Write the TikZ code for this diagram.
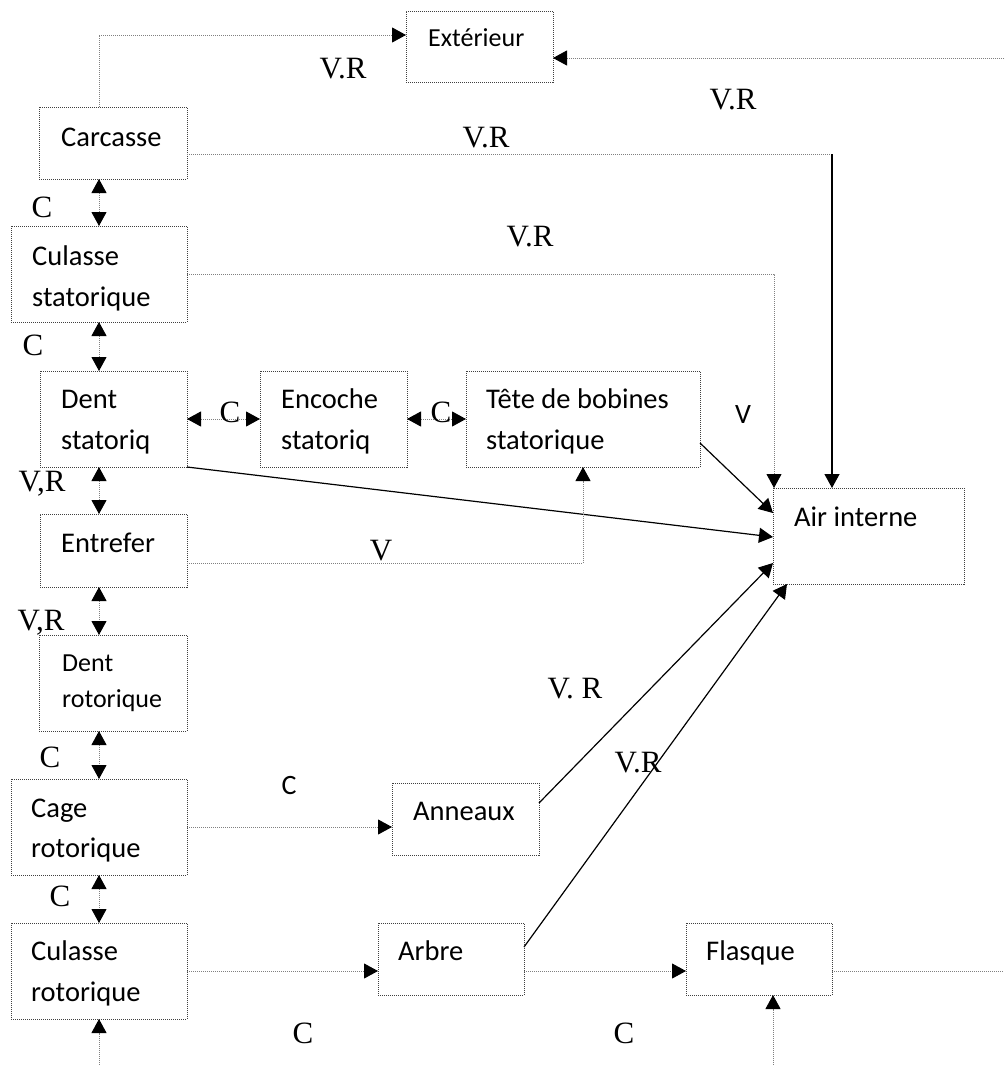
\documentclass[tikz,border=0pt]{standalone}
\usepackage{fontspec}
\setmainfont{Liberation Serif}
\newfontfamily\boxfont{Carlito}
\usetikzlibrary{arrows.meta}

\tikzset{
  box/.style={draw=black!75, line width=0.9pt, dash pattern=on 1pt off 1pt,
    inner sep=0pt, outer sep=0pt, anchor=north west},
  txt/.style={anchor=base west, inner sep=0pt, font=\boxfont\fontsize{28.5}{34}\selectfont},
  txts/.style={txt, font=\boxfont\fontsize{26}{31}\selectfont},
  lab/.style={inner sep=0pt, text height=20.5pt, text depth=0pt, font=\fontsize{31}{37}\selectfont},
  labs/.style={inner sep=0pt, text height=18pt, text depth=0pt, font=\boxfont\fontsize{28}{34}\selectfont},
  flow/.style={draw=black!50, line width=0.9pt, dash pattern=on 1pt off 1pt},
  solidflow/.style={draw=black, line width=1.2pt},
  arr/.style={-{Triangle[length=14pt,width=15pt,color=black]}},
  dbl/.style={{Triangle[length=14pt,width=15pt,color=black]}-{Triangle[length=14pt,width=15pt,color=black]}},
}

\begin{document}
\begin{tikzpicture}[x=1pt,y=-1pt]
\useasboundingbox (0,0) rectangle (1004,1065);

% blocks
\node[box, minimum width=147, minimum height=71] (ext)   at (406,11)  {};
\node[box, minimum width=148, minimum height=72] (carc)  at (39,107)  {};
\node[box, minimum width=176, minimum height=96] (culs)  at (11,226)  {};
\node[box, minimum width=147, minimum height=96] (dents) at (40,371)  {};
\node[box, minimum width=147, minimum height=96] (enc)   at (260,371) {};
\node[box, minimum width=234, minimum height=96] (tete)  at (466,371) {};
\node[box, minimum width=191, minimum height=96] (air)   at (773,488) {};
\node[box, minimum width=147, minimum height=73] (entr)  at (40,514)  {};
\node[box, minimum width=148, minimum height=96] (dentr) at (39,635)  {};
\node[box, minimum width=176, minimum height=96] (cage)  at (11,779)  {};
\node[box, minimum width=147, minimum height=72] (ann)   at (392,783) {};
\node[box, minimum width=176, minimum height=96] (culr)  at (11,923)  {};
\node[box, minimum width=146, minimum height=72] (arbre) at (378,923) {};
\node[box, minimum width=146, minimum height=72] (flas)  at (686,923) {};

% block texts
\node[txts] (ext-t)   at (428,47)  {Extérieur};
\node[txt]  (carc-t)  at (61,146)  {Carcasse};
\node[txt]  (culs-t1) at (32,265)  {Culasse};
\node[txt]  (culs-t2) at (32,306)  {statorique};
\node[txt]  (dents-t1) at (61,408) {Dent};
\node[txt]  (dents-t2) at (61,449) {statoriq};
\node[txt]  (enc-t1)  at (281,408) {Encoche};
\node[txt]  (enc-t2)  at (281,449) {statoriq};
\node[txt]  (tete-t1) at (486,408) {Tête de bobines};
\node[txt]  (tete-t2) at (486,449) {statorique};
\node[txt]  (air-t)   at (794,526) {Air interne};
\node[txt]  (entr-t)  at (61,552)  {Entrefer};
\node[txts] (dentr-t1) at (62,671) {Dent};
\node[txts] (dentr-t2) at (62,707) {rotorique};
\node[txt]  (cage-t1) at (31,817)  {Cage};
\node[txt]  (cage-t2) at (31,857)  {rotorique};
\node[txt]  (ann-t)   at (413,820) {Anneaux};
\node[txt]  (culr-t1) at (31,960)  {Culasse};
\node[txt]  (culr-t2) at (31,1001) {rotorique};
\node[txt]  (arbre-t) at (398,960) {Arbre};
\node[txt]  (flas-t)  at (706,960) {Flasque};

% turning points and free ends
\coordinate (colx) at (99,0);
\coordinate (k1) at (99,35);
\coordinate (k2) at (1004,58);
\coordinate (k3) at (832,154);
\coordinate (k4) at (774,274);
\coordinate (k5) at (583,563);
\coordinate (k6) at (1004,971);
\coordinate (k7) at (99,1065);
\coordinate (k8) at (773,1065);

% connectors
\draw[flow,arr] (carc.north -| k1) -- (k1) -- (ext.west |- k1);
\draw[flow,arr] (k2) -- (ext.east |- k2);
\draw[flow] (carc.east |- k3) -- (k3);
\draw[solidflow,arr] (k3) -- (air.north -| k3);
\draw[flow,arr] (culs.east |- k4) -- (k4) -- (air.north -| k4);

\draw[flow,dbl] (carc.south -| colx) -- (culs.north -| colx);
\draw[flow,dbl] (culs.south -| colx) -- (dents.north -| colx);
\draw[flow,dbl] (dents.south -| colx) -- (entr.north -| colx);
\draw[flow,dbl] (entr.south -| colx) -- (dentr.north -| colx);
\draw[flow,dbl] (dentr.south -| colx) -- (cage.north -| colx);
\draw[flow,dbl] (cage.south -| colx) -- (culr.north -| colx);

\draw[flow,dbl] (dents.east) -- (enc.west);
\draw[flow,dbl] (enc.east) -- (tete.west);

\draw[solidflow,arr] ([yshift=-24pt]tete.east) -- ([yshift=-25pt]air.north west);
\draw[solidflow,arr] (dents.south east) -- ([yshift=-49pt]air.north west);
\draw[flow,arr] (entr.east |- k5) -- (k5) -- (tete.south -| k5);

\draw[flow,arr] (cage.east) -- (ann.west |- cage.east);
\draw[solidflow,arr] ([yshift=-20pt]ann.north east) -- ([yshift=-75pt]air.north west);
\draw[solidflow,arr] ([yshift=-24pt]arbre.north east) -- ([xshift=14pt]air.south west);

\draw[flow,arr] (culr.east) -- (arbre.west |- culr.east);
\draw[flow,arr] (arbre.east |- culr.east) -- (flas.west |- culr.east);
\draw[flow] (flas.east |- k6) -- (k6);
\draw[flow,arr] (k7) -- (culr.south -| k7);
\draw[flow,arr] (k8) -- (flas.south -| k8);

% connector labels
\node[lab]  (l1)  at (343,68)   {V.R};
\node[lab]  (l2)  at (733,99)   {V.R};
\node[lab]  (l3)  at (486,137)  {V.R};
\node[lab]  (l4)  at (530,236)  {V.R};
\node[lab]  (l5)  at (42,207)   {C};
\node[lab]  (l6)  at (33,345)   {C};
\node[lab]  (l7)  at (230,412)  {C};
\node[lab]  (l8)  at (441,412)  {C};
\node[labs] (l9)  at (743,414)  {V};
\node[lab]  (l10) at (42,481)   {V,R};
\node[lab]  (l11) at (41,620)   {V,R};
\node[lab]  (l12) at (381,550)  {V};
\node[lab]  (l13) at (50,757)   {C};
\node[lab]  (l14) at (60,896)   {C};
\node[labs] (l15) at (289,785)  {C};
\node[lab]  (l16) at (575,688)  {V. R};
\node[lab]  (l17) at (638,762)  {V.R};
\node[lab]  (l18) at (303,1033) {C};
\node[lab]  (l19) at (624,1033) {C};
\end{tikzpicture}
\end{document}
